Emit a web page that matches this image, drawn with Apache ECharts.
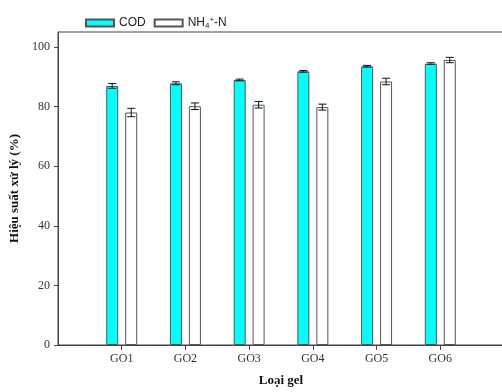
<!DOCTYPE html>
<html><head><meta charset="utf-8">
<script src="https://cdn.jsdelivr.net/npm/echarts@6/dist/echarts.min.js"></script>
<style>html,body{margin:0;padding:0;background:#fff;overflow:hidden}#c{width:507px;height:392px}</style>
</head><body><div id="c"></div>
<script>
var categories = ['', 'GO1', 'GO2', 'GO3', 'GO4', 'GO5', 'GO6', ''];
var codValues = [null, 86.9, 87.8, 88.9, 91.8, 93.5, 94.4, null];
var codErrors = [null, 0.8, 0.5, 0.3, 0.3, 0.3, 0.3, null];
var nhValues = [null, 78.0, 80.1, 80.6, 79.8, 88.4, 95.6, null];
var nhErrors = [null, 1.4, 1.1, 1.1, 1.0, 1.1, 0.9, null];
var yTicks = [0, 20, 40, 60, 80, 100];

var chart = echarts.init(document.getElementById('c'));
function errSeries(vals, errs, off) {
  var data = [];
  for (var i = 0; i < vals.length; i++) if (vals[i] != null) data.push([i, vals[i], errs[i]]);
  return {
    type: 'custom', z: 10, silent: true,
    renderItem: function (params, api) {
      var x = api.value(0), v = api.value(1), e = api.value(2);
      var top = api.coord([x, v + e]), bot = api.coord([x, v - e]);
      var cx = top[0] + off, hw = 4;
      var st = { stroke: '#111', lineWidth: 1 };
      return { type: 'group', children: [
        { type: 'line', shape: { x1: cx, y1: top[1], x2: cx, y2: bot[1] }, style: st },
        { type: 'line', shape: { x1: cx - hw, y1: top[1], x2: cx + hw, y2: top[1] }, style: st },
        { type: 'line', shape: { x1: cx - hw, y1: bot[1], x2: cx + hw, y2: bot[1] }, style: st }
      ]};
    },
    data: data
  };
}
var serif = '"Liberation Serif", "DejaVu Serif", serif';
chart.setOption({
  animation: false,
  legend: {
    left: 80, top: 11, itemWidth: 28, itemHeight: 7, itemGap: 8, icon: 'rect',
    textStyle: { fontFamily: 'Arial, "Liberation Sans", sans-serif', fontSize: 12, color: '#222',
      rich: { sub: { fontSize: 8, verticalAlign: 'bottom', padding: [6,0,0,0] }, sup: { fontSize: 8, padding: [0,0,6,0] } } },
    data: [{ name: 'COD' }, { name: 'NH4' }],
    formatter: function (n) { return n === 'NH4' ? 'NH{sub|4}{sup|+}-N' : n; }
  },
  grid: { left: 54, top: 32, right: 1, bottom: 46, show: true, borderColor: '#444', borderWidth: 1 },
  xAxis: {
    type: 'category', data: categories, boundaryGap: false,
    name: 'Loại gel', nameLocation: 'middle', nameGap: 29,
    nameTextStyle: { fontFamily: serif, fontWeight: 'bold', fontSize: 13, color: '#111' },
    axisLine: { lineStyle: { color: '#444' } },
    axisTick: { length: 5, lineStyle: { color: '#444' }, interval: function (i, v) { return v !== ''; } },
    axisLabel: { fontFamily: serif, fontSize: 12, color: '#333', margin: 8, interval: 0 },
    splitLine: { show: false }
  },
  yAxis: {
    type: 'value', min: 0, max: 105, interval: 20,
    name: 'Hiệu suất xử lý (%)', nameLocation: 'middle', nameGap: 37,
    nameTextStyle: { fontFamily: serif, fontWeight: 'bold', fontSize: 13, color: '#111' },
    axisLine: { show: true, lineStyle: { color: '#444' } },
    axisTick: { show: true, length: 4, lineStyle: { color: '#444' }, customValues: yTicks },
    axisLabel: { fontFamily: serif, fontSize: 12, color: '#333', margin: 8, customValues: yTicks },
    splitLine: { show: false }
  },
  series: [
    { name: 'COD', type: 'bar', data: codValues, barWidth: 12, barGap: '58%',
      itemStyle: { color: '#00FFFF', borderColor: '#555', borderWidth: 1 } },
    { name: 'NH4', type: 'bar', data: nhValues, barWidth: 12,
      itemStyle: { color: '#FFFFFF', borderColor: '#555', borderWidth: 1 } },
    errSeries(codValues, codErrors, -9.5),
    errSeries(nhValues, nhErrors, 9.5)
  ]
});
</script></body></html>
